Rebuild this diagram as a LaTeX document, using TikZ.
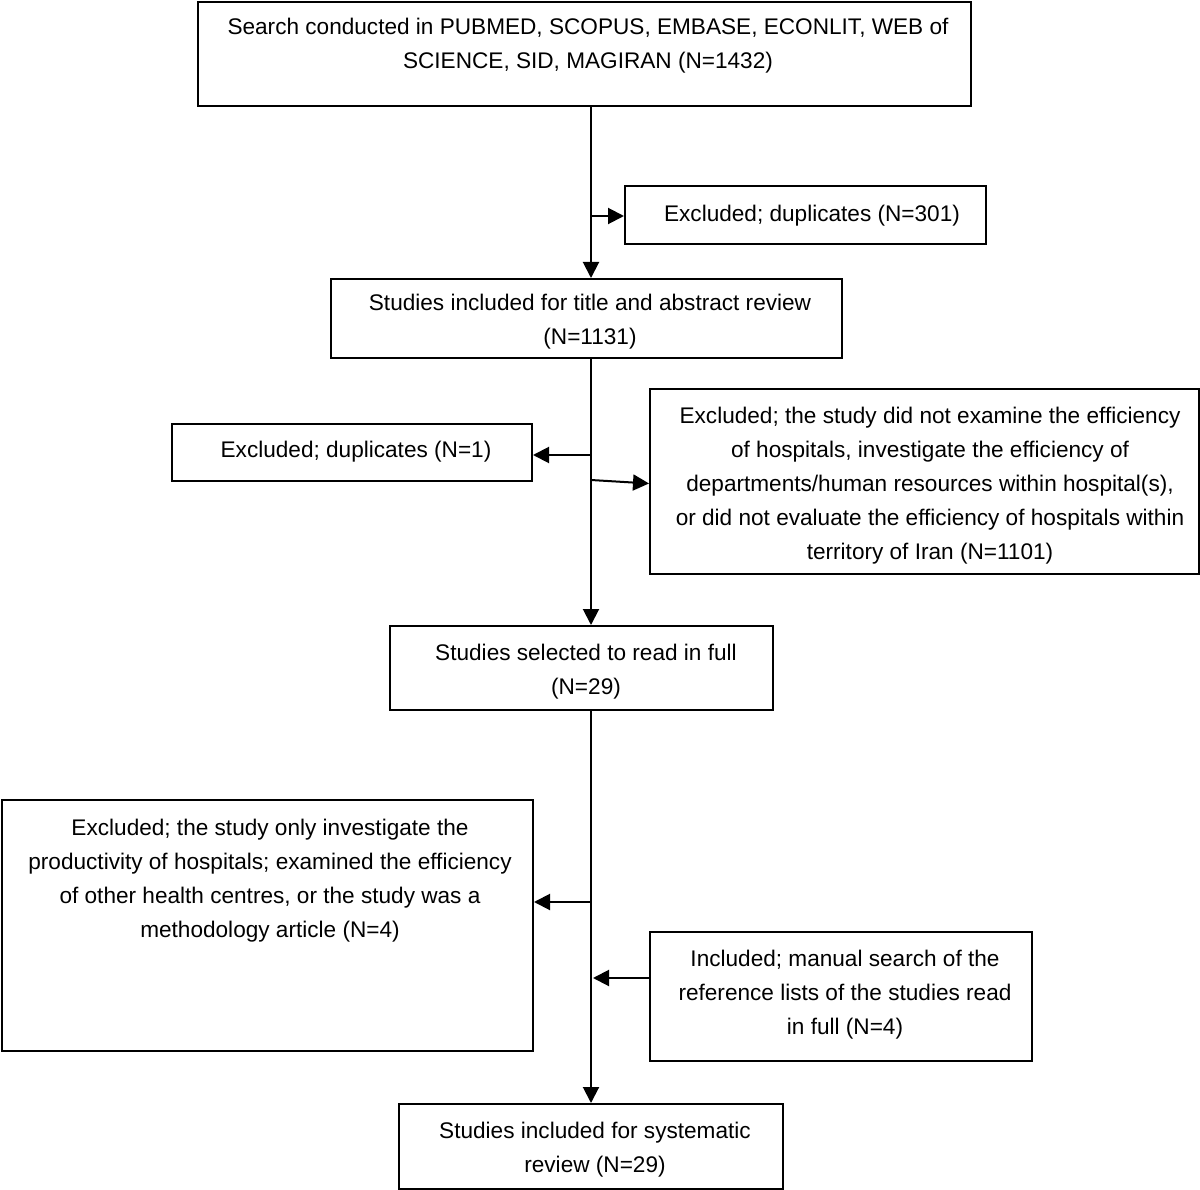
\documentclass[tikz,border=0pt]{standalone}
\usepackage{fontspec}
\setmainfont{Liberation Sans}
\usetikzlibrary{arrows.meta,calc}
\begin{document}
\begin{tikzpicture}[x=1pt,y=-1pt,
  box/.style={draw, line width=2pt, rectangle, inner sep=0pt},
  txt/.style={align=center, font=\fontsize{22.6}{34}\selectfont, inner sep=0pt},
  arr/.style={line width=2pt, -{Triangle[length=16pt,width=16pt]}},
  ln/.style={line width=2pt}]
\useasboundingbox (0,0) rectangle (1200,1190);
% boxes
\node[box, minimum width=773, minimum height=104] (b1) at (584.5,54) {};
\node[box, minimum width=361, minimum height=58] (b2) at (805.5,215) {};
\node[box, minimum width=511, minimum height=79] (b3) at (586.5,318.5) {};
\node[box, minimum width=360, minimum height=57] (b4) at (352,452.5) {};
\node[box, minimum width=549, minimum height=185] (b5) at (924.5,481.5) {};
\node[box, minimum width=383, minimum height=84] (b6) at (581.5,668) {};
\node[box, minimum width=531, minimum height=251] (b7) at (267.5,925.5) {};
\node[box, minimum width=382, minimum height=129] (b8) at (841,996.5) {};
\node[box, minimum width=384, minimum height=85] (b9) at (591,1146.5) {};
% texts
\node[txt] (t1) at (588,46) {Search conducted in PUBMED, SCOPUS, EMBASE, ECONLIT, WEB of\\SCIENCE, SID, MAGIRAN (N=1432)};
\node[txt] (t2) at (812,216) {Excluded; duplicates (N=301)};
\node[txt] (t3) at (590,322) {Studies included for title and abstract review\\(N=1131)};
\node[txt] (t4) at (356,452) {Excluded; duplicates (N=1)};
\node[txt] (t5) at (930,486) {Excluded; the study did not examine the efficiency\\of hospitals, investigate the efficiency of\\departments/human resources within hospital(s),\\or did not evaluate the efficiency of hospitals within\\territory of Iran (N=1101)};
\node[txt] (t6) at (586,672) {Studies selected to read in full\\(N=29)};
\node[txt] (t7) at (270,881) {Excluded; the study only investigate the\\productivity of hospitals; examined the efficiency\\of other health centres, or the study was a\\methodology article (N=4)};
\node[txt] (t8) at (845,994.5) {Included; manual search of the\\reference lists of the studies read\\in full (N=4)};
\node[txt] (t9) at (595,1150) {Studies included for systematic\\review (N=29)};
% trunk junctions
\coordinate (trunk) at (591,0);
\coordinate (j2) at (591,216);
\coordinate (j4) at (591,455);
\coordinate (j5) at (591,480);
\coordinate (j7) at (591,902);
\coordinate (j8) at (591,978);
% connectors
\draw[arr] (b1.south -| trunk) -- (b3.north -| trunk);
\draw[arr] (b3.south -| trunk) -- (b6.north -| trunk);
\draw[arr] (b6.south -| trunk) -- (b9.north -| trunk);
\draw[arr] (j2) -- (j2 -| b2.west);
\draw[arr] (j4) -- (j4 -| b4.east);
\draw[arr] (j5) -- ($(b5.west)+(0,2)$);
\draw[arr] (j7) -- (j7 -| b7.east);
\draw[arr] (j8 -| b8.west) -- ($(j8)+(2,0)$);
\end{tikzpicture}
\end{document}
